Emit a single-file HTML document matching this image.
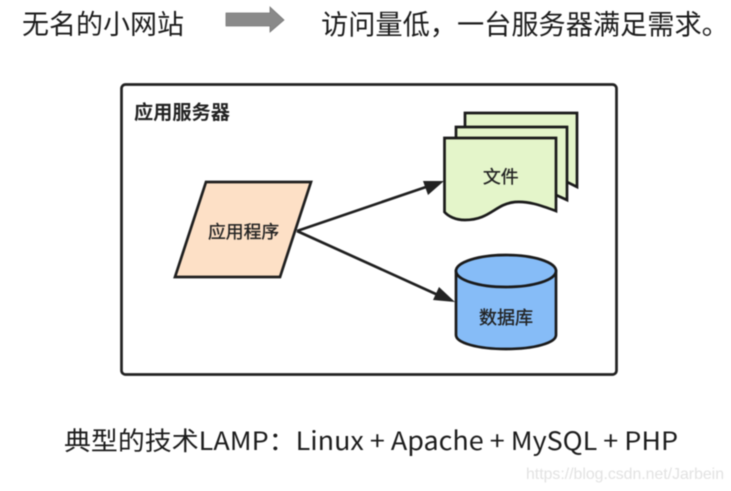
<!DOCTYPE html>
<html><head><meta charset="utf-8"><style>
html,body{margin:0;padding:0;background:#fff}
body{width:731px;height:491px;overflow:hidden}
svg{display:block;filter:blur(.5px)}
text{font-family:"Liberation Sans","Noto Sans CJK SC",sans-serif}
.n{font-family:"Noto Sans CJK SC","Liberation Sans",sans-serif}
.l{stroke:#222;stroke-width:.35px}
</style></head><body>
<svg width="731" height="491" viewBox="0 0 731 491" xmlns="http://www.w3.org/2000/svg">
<text class="n" x="22" y="34" font-size="27" fill="#1c1c1c">无名的小网站</text>
<polygon points="226,13 270,13 270,7 284,20 270,32 270,26 226,26" fill="#8a8a8a" stroke="#777" stroke-width=".8"/>
<text class="n" x="321" y="34" font-size="27.200" fill="#1c1c1c">访问量低，一台服务器满足需求。</text>
<rect x="121.500" y="84.500" width="495" height="290" rx="4" fill="#fff" stroke="#222" stroke-width="2.700"/>
<text class="n" x="134" y="119" font-size="19.200" font-weight="700" fill="#222">应用服务器</text>
<polygon points="206,182 311,182 280,277 175,277" fill="#fde0c6" stroke="#1f1f1f" stroke-width="2.700"/>
<text class="n l" x="208" y="238" font-size="17.800" fill="#222">应用程序</text>
<path d="M297,231L426,187M297,231L438,295" stroke="#1f1f1f" stroke-width="2.700" fill="none"/>
<polygon points="444,181 423,181 428,195" fill="#222"/>
<polygon points="455,302 433,300 439,287" fill="#222"/>
<g fill="#e4f5ca" stroke="#1a1a1a" stroke-width="2.700">
<path d="M465,113H577V187L555,176V140H465Z"/>
<path d="M456,127H567V200L545,190V140H456Z"/>
<path d="M444.500,138H556V211C540,205 528,201 515,202C495,204 490,220 465,220C455,220 448,216 444.500,212Z"/>
</g>
<text class="n l" x="483" y="183" font-size="17.800" fill="#222">文件</text>
<path d="M456,271V335C456,343 478,349 506,349C534,349 556,343 556,335V271Z" fill="#86bcf7" stroke="#1a1a1a" stroke-width="2.700"/>
<ellipse cx="506" cy="271" rx="50" ry="16" fill="#86bcf7" stroke="#1a1a1a" stroke-width="2.700"/>
<text class="n l" x="479" y="324" font-size="18" fill="#222">数据库</text>
<text class="n" x="64" y="450" font-size="25.500" fill="#1c1c1c" textLength="614" lengthAdjust="spacingAndGlyphs">典型的技术LAMP：Linux + Apache + MySQL + PHP</text>
<text x="526" y="479" font-size="16" fill="#e2e2e2" textLength="198" lengthAdjust="spacingAndGlyphs">https://blog.csdn.net/Jarbein</text>
</svg>
</body></html>
